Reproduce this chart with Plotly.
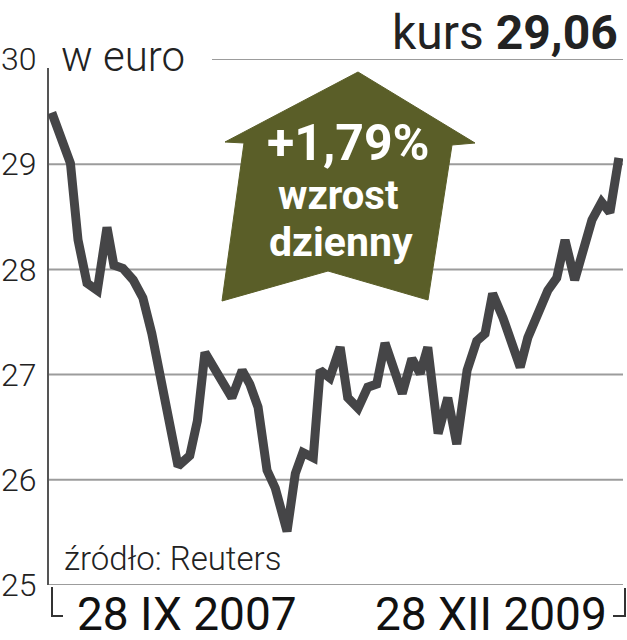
import plotly.graph_objects as go

# ---- data ----
dates = [
    "2007-09-28", "2007-10-25", "2007-11-05", "2007-11-18", "2007-12-03", "2007-12-17",
    "2007-12-27", "2008-01-09", "2008-01-24", "2008-02-07", "2008-02-20", "2008-03-06",
    "2008-03-17", "2008-03-29", "2008-04-15", "2008-04-26", "2008-05-07", "2008-05-22",
    "2008-06-15", "2008-06-30", "2008-07-11", "2008-07-23", "2008-08-05", "2008-08-17",
    "2008-09-03", "2008-09-15", "2008-09-26", "2008-10-11", "2008-10-21", "2008-11-04",
    "2008-11-19", "2008-11-30", "2008-12-15", "2008-12-29", "2009-01-11", "2009-01-23",
    "2009-02-04", "2009-02-17", "2009-03-03", "2009-03-15", "2009-03-26", "2009-04-10",
    "2009-04-24", "2009-05-07", "2009-05-22", "2009-06-05", "2009-06-17", "2009-06-28",
    "2009-07-13", "2009-07-26", "2009-08-07", "2009-08-18", "2009-09-02", "2009-09-16",
    "2009-09-29", "2009-10-11", "2009-10-25", "2009-11-04", "2009-11-19", "2009-12-03",
    "2009-12-15", "2009-12-28",
]
prices = [
    29.49, 29.01, 28.28, 27.87, 27.80, 28.40,
    28.04, 28.01, 27.90, 27.73, 27.39, 26.88,
    26.56, 26.13, 26.23, 26.56, 27.21, 27.04,
    26.78, 27.04, 26.91, 26.69, 26.09, 25.92,
    25.51, 26.06, 26.26, 26.21, 27.04, 26.97,
    27.26, 26.78, 26.68, 26.88, 26.91, 27.30,
    27.07, 26.82, 27.15, 27.01, 27.26, 26.44,
    26.78, 26.34, 27.04, 27.32, 27.39, 27.77,
    27.54, 27.26, 27.07, 27.35, 27.58, 27.80,
    27.92, 28.28, 27.90, 28.11, 28.47, 28.64,
    28.54, 29.06,
]
y_ticks = [25, 26, 27, 28, 29, 30]
y_tick_labels = ["25", "26", "27", "28", "29", "30"]
start_label = "28 IX 2007"
end_label = "28 XII 2009"
unit_label = "w euro"
source_label = "źródło: Reuters"
last_price_label = "29,06"
daily_change_label = "+1,79%"

# ---- layout helpers (pixel -> paper) ----
W, H = 627, 640
L, R, T, B = 48, 4, 59, 55
PW, PH = W - L - R, H - T - B


def px(x):
    return (x - L) / PW


def py(y):
    return (H - B - y) / PH


FONT = "Roboto, 'Liberation Sans', Arial, sans-serif"
LINE_COL = "#454547"
GRID_COL = "#9c9c9c"
OLIVE = "#5a5e28"

fig = go.Figure()
fig.add_trace(go.Scatter(
    x=dates, y=prices, mode="lines",
    line=dict(color=LINE_COL, width=9, shape="linear"),
    hoverinfo="skip", showlegend=False,
))

shapes = []
# horizontal grid lines
for v in y_ticks:
    x0 = px(212) if v == 30 else 0
    shapes.append(dict(type="line", xref="paper", yref="y", x0=x0, x1=1, y0=v, y1=v,
                       line=dict(color=GRID_COL, width=2), layer="below"))
# vertical axis line
shapes.append(dict(type="line", xref="paper", yref="paper", x0=0, x1=0, y0=0, y1=py(68),
                   line=dict(color="#555", width=2), layer="below"))
# bottom brackets
shapes.append(dict(type="path", xref="paper", yref="paper",
                   path=f"M{px(52)},{py(587)} L{px(52)},{py(616)} L{px(63)},{py(616)}",
                   line=dict(color="#333", width=2)))
shapes.append(dict(type="path", xref="paper", yref="paper",
                   path=f"M{px(625)},{py(588)} L{px(625)},{py(616)} L{px(613)},{py(616)}",
                   line=dict(color="#333", width=2)))
# arrow
arrow_pts = [(358, 72), (475, 143), (452, 145), (428, 300), (328, 271),
             (222, 301), (244, 143), (225, 142)]
path = "M" + " L".join(f"{px(a)},{py(b)}" for a, b in arrow_pts) + " Z"
shapes.append(dict(type="path", xref="paper", yref="paper", path=path,
                   fillcolor=OLIVE, line=dict(color=OLIVE, width=1), layer="above"))

annotations = [
    dict(text=unit_label, x=px(59), y=py(56), xanchor="left", yanchor="middle",
         font=dict(family=FONT, size=42, color="#222", weight=300)),
    dict(text=f"kurs <b>{last_price_label}</b>", x=px(620), y=py(32), xanchor="right",
         yanchor="middle", font=dict(family=FONT, size=48, color="#222")),
    dict(text=source_label, x=px(62), y=py(558), xanchor="left", yanchor="middle",
         font=dict(family=FONT, size=33, color="#222", weight=300)),
    dict(text=start_label, x=px(75), y=py(614), xanchor="left", yanchor="middle",
         font=dict(family=FONT, size=46, color="#111")),
    dict(text=end_label, x=px(609), y=py(614), xanchor="right", yanchor="middle",
         font=dict(family=FONT, size=46, color="#111")),
    dict(text=f"<b>{daily_change_label}</b>", x=px(348), y=py(143), xanchor="center",
         yanchor="middle", borderpad=0,
         font=dict(family=FONT, size=50, color="white")),
    dict(text="<b>wzrost</b>", x=px(338), y=py(195), xanchor="center", yanchor="middle",
         borderpad=0,
         font=dict(family=FONT, size=40, color="white")),
    dict(text="<b>dzienny</b>", x=px(341), y=py(242), xanchor="center", yanchor="middle",
         borderpad=0,
         font=dict(family=FONT, size=41, color="white")),
]
for a in annotations:
    a.update(xref="paper", yref="paper", showarrow=False)

fig.update_layout(
    width=W, height=H,
    margin=dict(l=L, r=R, t=T, b=B, autoexpand=False),
    paper_bgcolor="white", plot_bgcolor="white",
    shapes=shapes, annotations=annotations,
    xaxis=dict(range=["2007-09-22 12:00", "2010-01-03"], showgrid=False, zeroline=False,
               showticklabels=False, showline=False, ticks="", automargin=False),
    yaxis=dict(range=[25, 30], tickvals=y_ticks, ticktext=y_tick_labels, showgrid=False,
               zeroline=False, showline=False, ticks="outside", ticklen=4,
               tickcolor="rgba(0,0,0,0)", automargin=False,
               tickfont=dict(family=FONT, size=32, color="#222", weight=300)),
)

fig.write_html(
    "out.html",
    config={"displayModeBar": False},
    post_script="document.body.style.margin='0';document.body.style.overflow='hidden';",
)
